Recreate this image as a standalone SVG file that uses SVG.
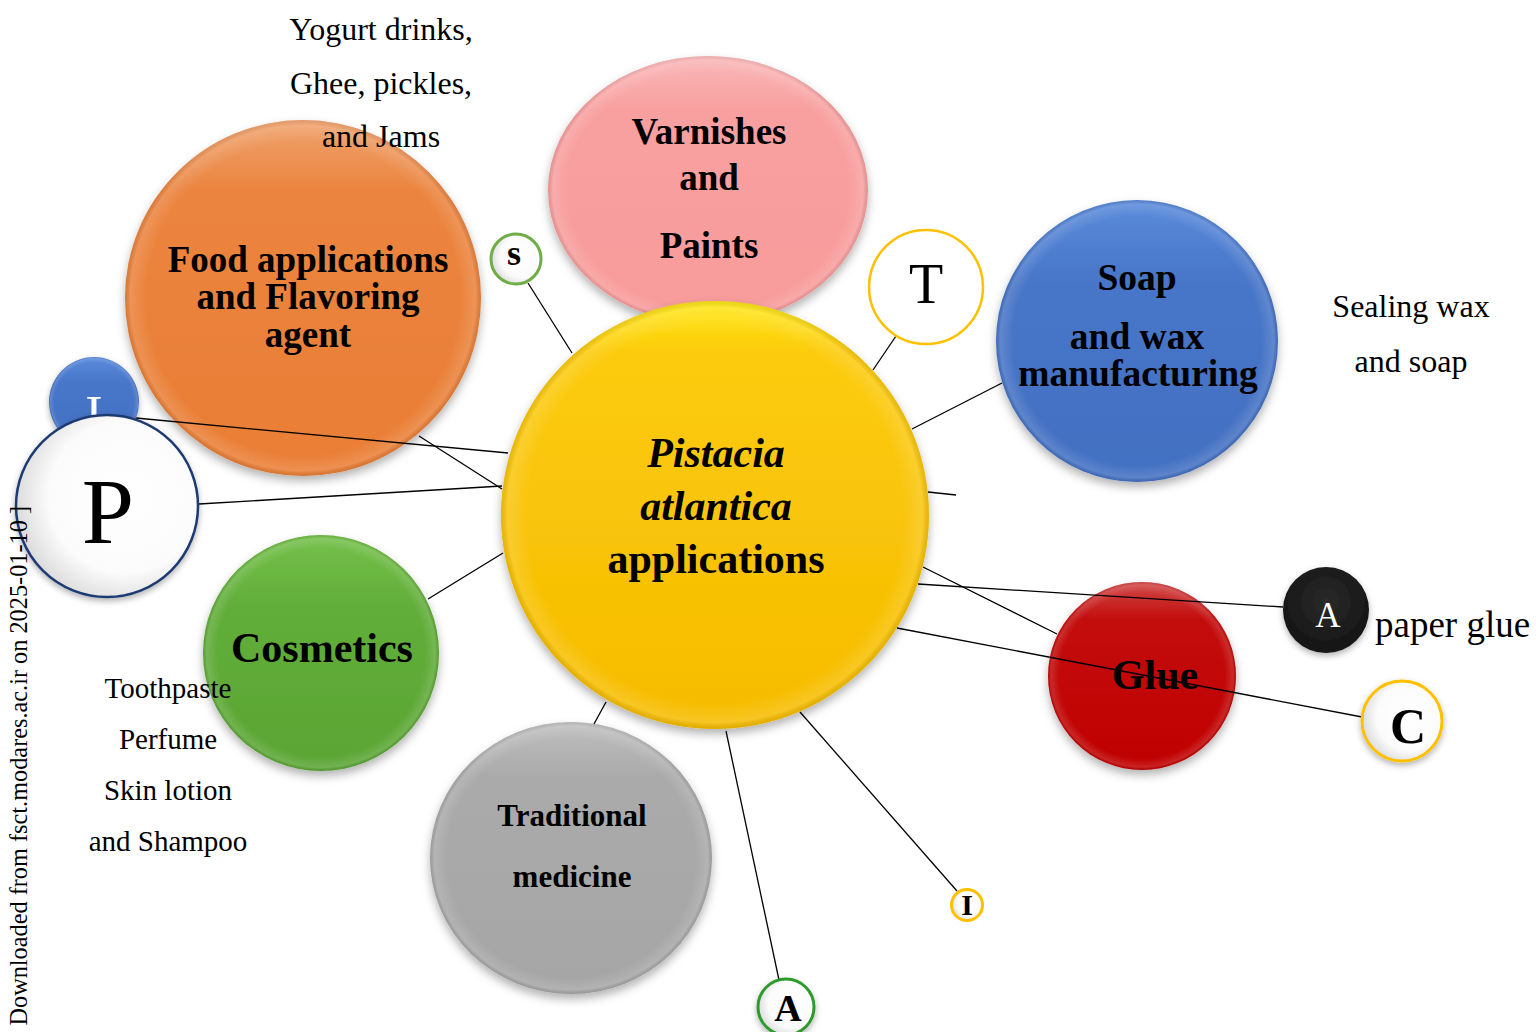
<svg xmlns="http://www.w3.org/2000/svg" width="1536" height="1032" viewBox="0 0 1536 1032">
<defs>
  <filter id="sh" x="-20%" y="-20%" width="140%" height="145%">
    <feDropShadow dx="0" dy="5" stdDeviation="5" flood-color="#000" flood-opacity="0.3"/>
  </filter>
  <filter id="shs" x="-30%" y="-30%" width="160%" height="170%">
    <feDropShadow dx="0" dy="3" stdDeviation="3" flood-color="#000" flood-opacity="0.3"/>
  </filter>
  <radialGradient id="bevel" cx="0.5" cy="0.5" r="0.5">
    <stop offset="0" stop-color="#fff" stop-opacity="0"/>
    <stop offset="0.88" stop-color="#fff" stop-opacity="0"/>
    <stop offset="0.97" stop-color="#fff" stop-opacity="0.14"/>
    <stop offset="1" stop-color="#000" stop-opacity="0.08"/>
  </radialGradient>
  <linearGradient id="gloss" x1="0" y1="0" x2="0" y2="1">
    <stop offset="0" stop-color="#fff" stop-opacity="0.28"/>
    <stop offset="0.2" stop-color="#fff" stop-opacity="0.05"/>
    <stop offset="1" stop-color="#fff" stop-opacity="0"/>
  </linearGradient>
  <linearGradient id="gYellow" x1="0" y1="0" x2="0" y2="1">
    <stop offset="0" stop-color="#FFE81A"/>
    <stop offset="0.12" stop-color="#FCCB0C"/>
    <stop offset="1" stop-color="#F6BC02"/>
  </linearGradient>
  <linearGradient id="gBlue" x1="0" y1="0" x2="0" y2="1">
    <stop offset="0" stop-color="#5B8BDB"/>
    <stop offset="0.3" stop-color="#4775C8"/>
    <stop offset="1" stop-color="#4370C2"/>
  </linearGradient>
  <linearGradient id="gGreen" x1="0" y1="0" x2="0" y2="1">
    <stop offset="0" stop-color="#74C04A"/>
    <stop offset="0.3" stop-color="#62AE3A"/>
    <stop offset="1" stop-color="#5AA534"/>
  </linearGradient>
  <radialGradient id="gWhite" cx="0.6" cy="0.45" r="0.6">
    <stop offset="0" stop-color="#ffffff"/>
    <stop offset="0.7" stop-color="#fbfbfb"/>
    <stop offset="1" stop-color="#dcdcdc"/>
  </radialGradient>
  <radialGradient id="gBlack" cx="0.5" cy="0.4" r="0.6">
    <stop offset="0" stop-color="#2a2a2a"/>
    <stop offset="1" stop-color="#141414"/>
  </radialGradient>
</defs>
<style>
  .t { font-family: "Liberation Serif", "Times New Roman", serif; fill: #000; }
  .b { font-weight: bold; }
  .c { text-anchor: middle; }
  .ln { stroke: #000; stroke-width: 1.3; fill: none; }
  .bev { fill: url(#bevel); }
  .gl { fill: url(#gloss); }
</style>

<rect width="1536" height="1032" fill="#fff"/>

<g id="node-varnishes">
  <ellipse cx="708" cy="190" rx="160" ry="134" fill="#F89B9B" filter="url(#sh)"/>
  <ellipse cx="708" cy="190" rx="160" ry="134" class="bev"/>
  <ellipse cx="708" cy="190" rx="160" ry="134" class="gl"/>
  <text class="t b c" x="709" y="144" font-size="37">Varnishes</text>
  <text class="t b c" x="709" y="190" font-size="37">and</text>
  <text class="t b c" x="709" y="258" font-size="37">Paints</text>
</g>

<g id="node-food">
  <circle cx="303" cy="298" r="178" fill="#EA7E35" filter="url(#sh)"/>
  <circle cx="303" cy="298" r="178" class="bev"/>
  <circle cx="303" cy="298" r="178" class="gl"/>
  <text class="t b c" x="308" y="272" font-size="37">Food applications</text>
  <text class="t b c" x="308" y="309" font-size="37">and Flavoring</text>
  <text class="t b c" x="308" y="347" font-size="37">agent</text>
</g>

<g id="note-food">
  <text class="t c" x="381" y="40" font-size="32">Yogurt drinks,</text>
  <text class="t c" x="381" y="94" font-size="32">Ghee, pickles,</text>
  <text class="t c" x="381" y="147" font-size="32">and Jams</text>
</g>

<g id="node-soap">
  <circle cx="1137" cy="341" r="141" fill="url(#gBlue)" filter="url(#sh)"/>
  <circle cx="1137" cy="341" r="141" class="bev"/>
  <text class="t b c" x="1137" y="290" font-size="37.5">Soap</text>
  <text class="t b c" x="1137" y="349" font-size="37.5">and wax</text>
  <text class="t b c" x="1138" y="386" font-size="37.5">manufacturing</text>
</g>

<g id="note-soap">
  <text class="t c" x="1411" y="317" font-size="32">Sealing wax</text>
  <text class="t c" x="1411" y="372" font-size="32">and soap</text>
</g>

<g id="node-cosmetics">
  <circle cx="321" cy="653" r="118" fill="url(#gGreen)" filter="url(#sh)"/>
  <circle cx="321" cy="653" r="118" class="bev"/>
  <text class="t b c" x="322" y="662" font-size="42">Cosmetics</text>
</g>

<g id="note-cosmetics">
  <text class="t c" x="168" y="698" font-size="29">Toothpaste</text>
  <text class="t c" x="168" y="749" font-size="29">Perfume</text>
  <text class="t c" x="168" y="800" font-size="29">Skin lotion</text>
  <text class="t c" x="168" y="851" font-size="29">and Shampoo</text>
</g>

<g id="node-traditional">
  <ellipse cx="571" cy="858" rx="141" ry="136" fill="#A6A6A6" filter="url(#sh)"/>
  <ellipse cx="571" cy="858" rx="141" ry="136" class="bev"/>
  <ellipse cx="571" cy="858" rx="141" ry="136" class="gl"/>
  <text class="t b c" x="572" y="826" font-size="31">Traditional</text>
  <text class="t b c" x="572" y="887" font-size="31">medicine</text>
</g>

<g id="node-glue">
  <circle cx="1142" cy="676" r="94" fill="#C00606" filter="url(#sh)"/>
  <circle cx="1142" cy="676" r="94" class="bev"/>
  <circle cx="1142" cy="676" r="94" class="gl"/>
  <text class="t b c" x="1155" y="689" font-size="42">Glue</text>
</g>

<g id="node-center">
  <circle cx="715" cy="515" r="214" fill="url(#gYellow)" filter="url(#sh)"/>
  <circle cx="715" cy="515" r="214" class="bev"/>
  <text class="t b c" x="716" y="467" font-size="42" font-style="italic">Pistacia</text>
  <text class="t b c" x="716" y="520" font-size="42" font-style="italic">atlantica</text>
  <text class="t b c" x="716" y="573" font-size="42">applications</text>
</g>

<g id="connectors">
  <line class="ln" x1="528" y1="283" x2="572" y2="353"/>
  <line class="ln" x1="896" y1="336" x2="873" y2="370"/>
  <line class="ln" x1="1002" y1="383" x2="912" y2="429"/>
  <line class="ln" x1="928" y1="492" x2="956" y2="495"/>
  <line class="ln" x1="923" y1="567" x2="1057" y2="634"/>
  <line class="ln" x1="918" y1="584" x2="1283" y2="607"/>
  <line class="ln" x1="897" y1="628" x2="1362" y2="717"/>
  <line class="ln" x1="428" y1="599" x2="503" y2="553"/>
  <line class="ln" x1="594" y1="724" x2="606" y2="702"/>
  <line class="ln" x1="726" y1="731" x2="779" y2="980"/>
  <line class="ln" x1="800" y1="712" x2="957" y2="891"/>
  <line class="ln" x1="419" y1="436" x2="502" y2="489"/>
  <line class="ln" x1="136" y1="418" x2="508" y2="453"/>
  <line class="ln" x1="199" y1="504" x2="502" y2="486"/>
</g>

<g id="node-s">
  <circle cx="516" cy="259" r="25" fill="url(#gWhite)" stroke="#70AD47" stroke-width="3"/>
  <text class="t b c" x="514" y="265" font-size="36">s</text>
</g>

<g id="node-T">
  <circle cx="926" cy="287" r="57" fill="#fff" stroke="#FFC000" stroke-width="2.5"/>
  <text class="t c" x="926" y="303" font-size="56">T</text>
</g>

<g id="node-I-blue">
  <circle cx="94" cy="402" r="45" fill="url(#gBlue)" filter="url(#shs)"/>
  <circle cx="94" cy="402" r="45" class="bev"/>
  <text class="t c" x="94" y="432" font-size="52" style="fill:#fff">I</text>
</g>

<g id="node-P">
  <circle cx="107" cy="506" r="91" fill="url(#gWhite)" stroke="#1F3A73" stroke-width="2.5" filter="url(#shs)"/>
  <text class="t c" x="108" y="543" font-size="94">P</text>
</g>

<g id="node-A-paper">
  <circle cx="1326" cy="610" r="43" fill="url(#gBlack)" filter="url(#shs)"/>
  <text class="t c" x="1328" y="627" font-size="35" style="fill:#fff">A</text>
</g>
<g id="note-glue">
  <text class="t" x="1375" y="637" font-size="37">paper glue</text>
</g>

<g id="node-C">
  <circle cx="1402" cy="721" r="40" fill="url(#gWhite)" stroke="#FFC000" stroke-width="3" filter="url(#shs)"/>
  <text class="t b c" x="1408" y="743" font-size="50">C</text>
</g>

<g id="node-I-small">
  <circle cx="967" cy="905" r="15.5" fill="url(#gWhite)" stroke="#FFC000" stroke-width="3"/>
  <text class="t b c" x="967" y="915" font-size="30">I</text>
</g>

<g id="node-A-bottom">
  <circle cx="786" cy="1007" r="28" fill="url(#gWhite)" stroke="#2E9A2E" stroke-width="3" filter="url(#shs)"/>
  <text class="t b c" x="788" y="1021" font-size="38">A</text>
</g>

<g id="watermark">
  <text class="t" transform="translate(27,506) rotate(-90)" text-anchor="end" font-size="24.3">[ Downloaded from fsct.modares.ac.ir on 2025-01-10 ]</text>
</g>
</svg>
